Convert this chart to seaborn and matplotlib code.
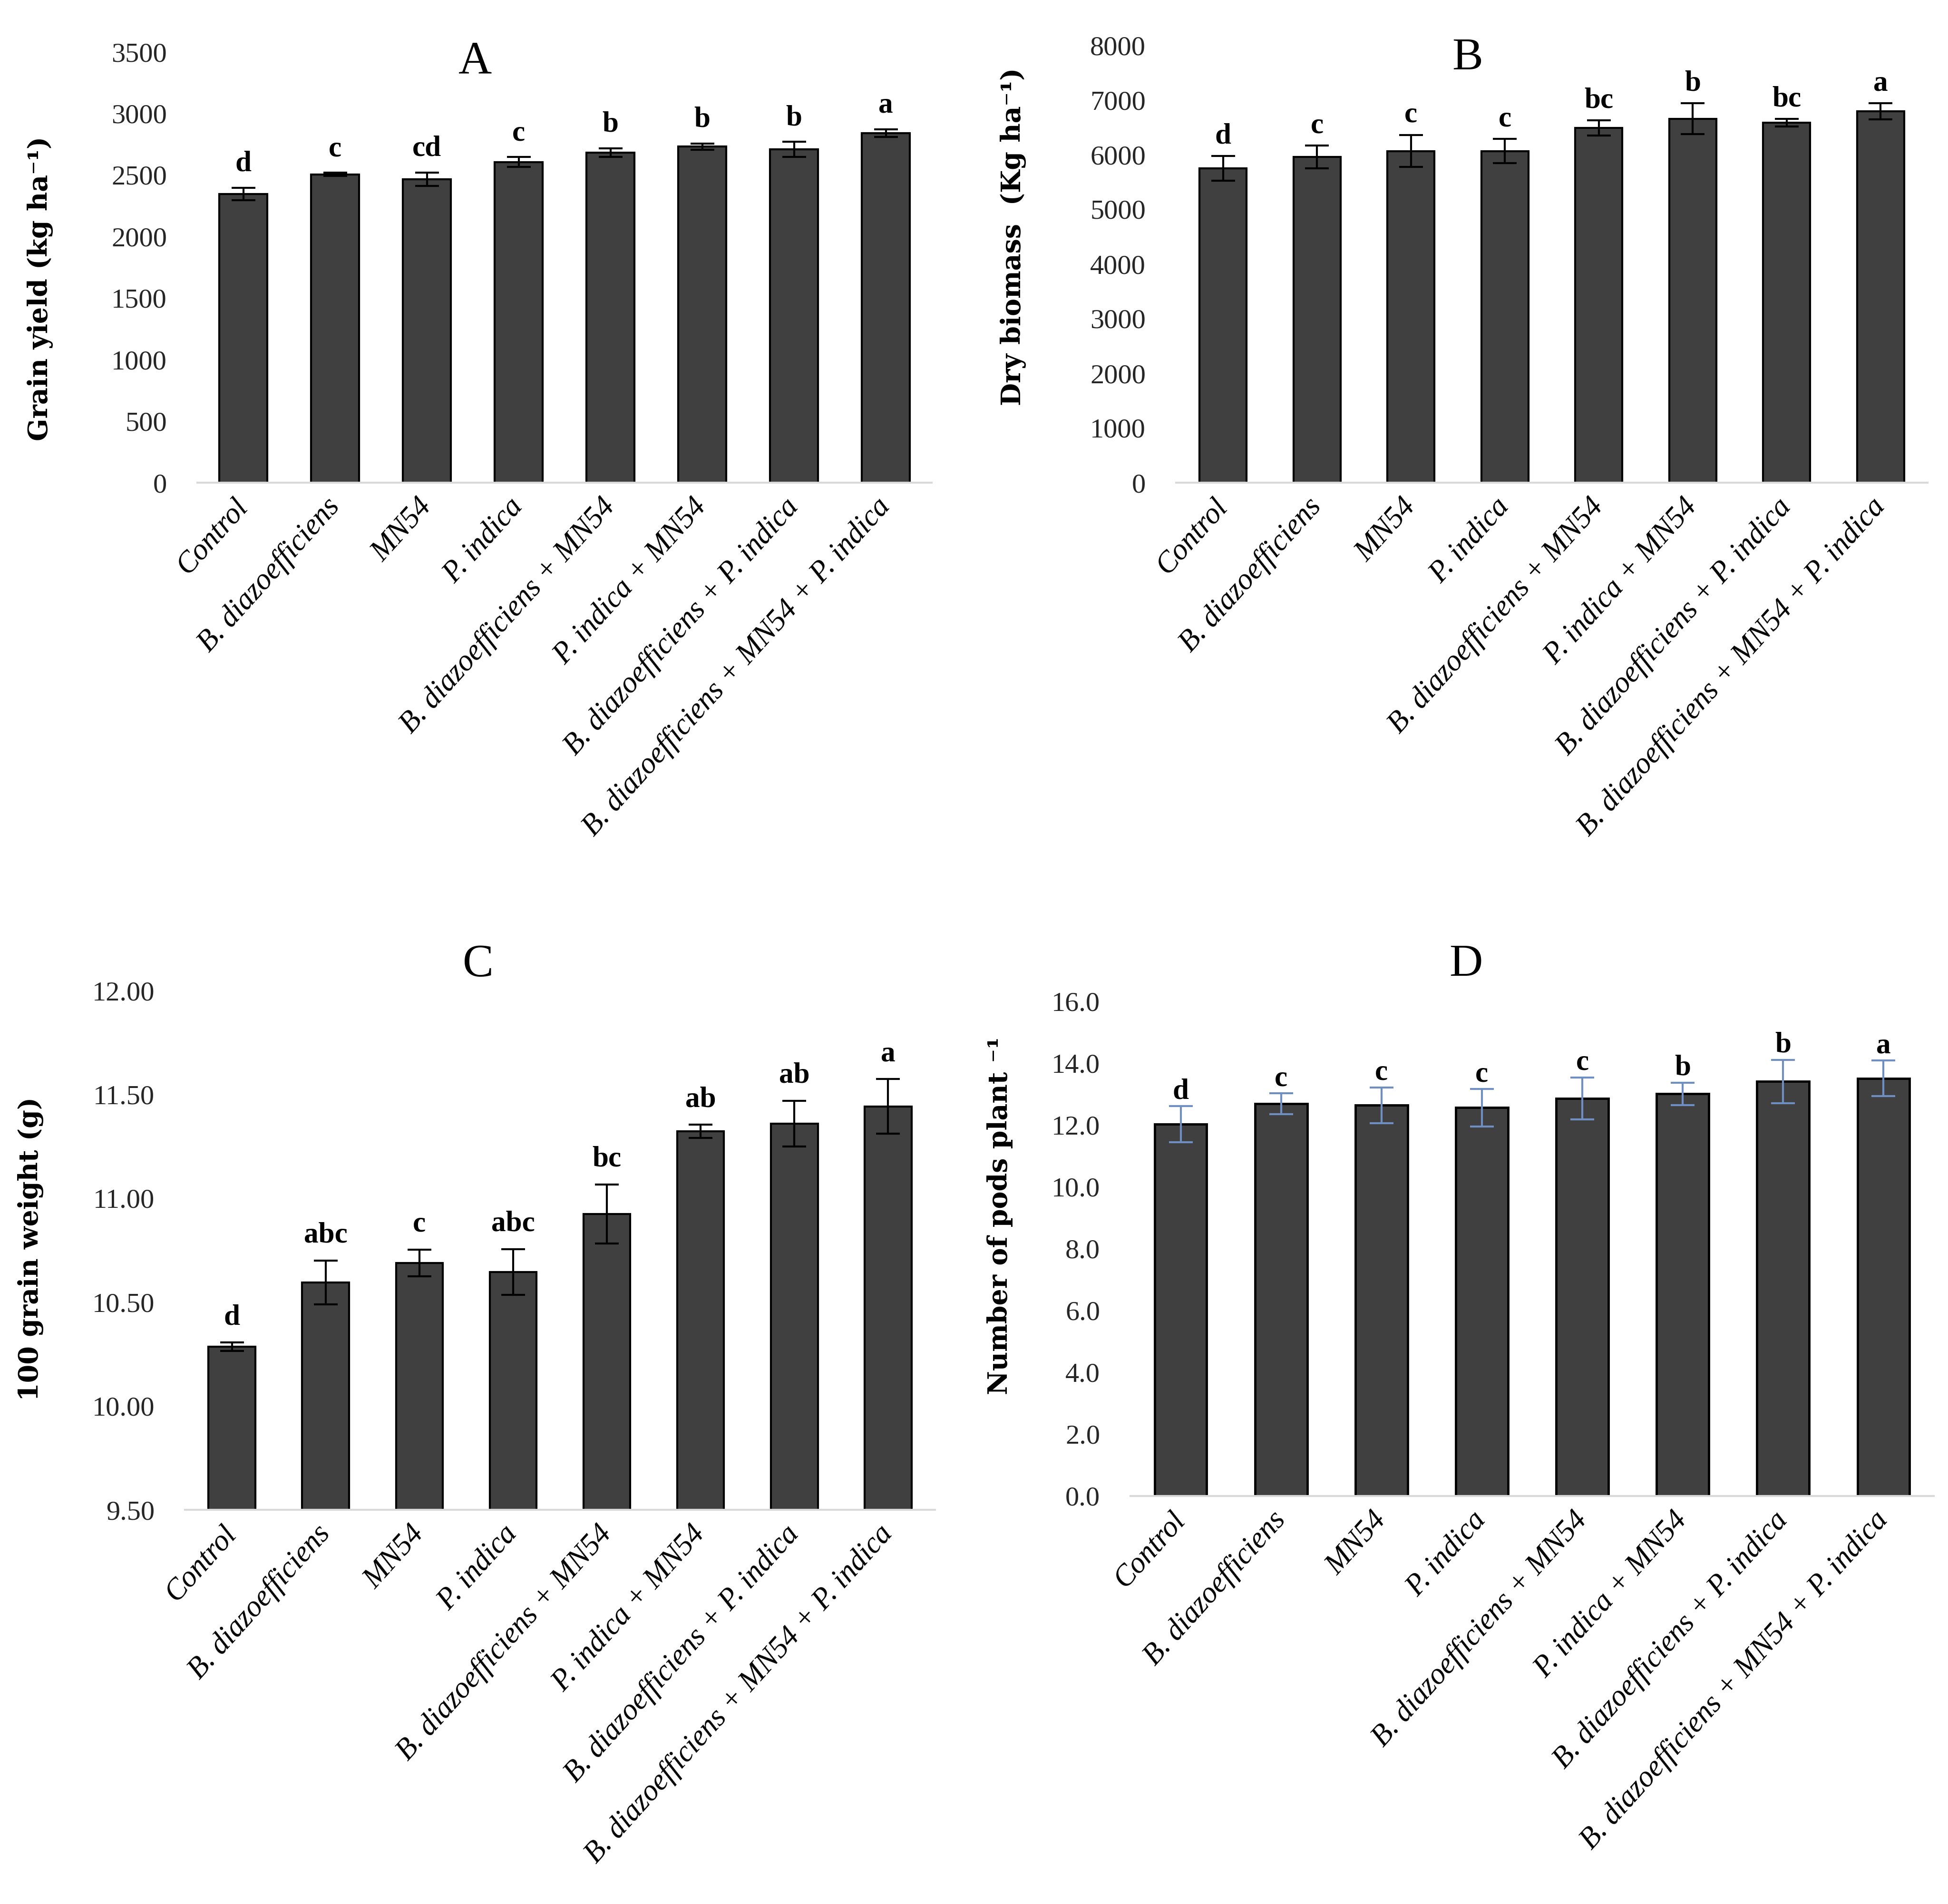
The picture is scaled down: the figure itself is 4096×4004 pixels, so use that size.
import matplotlib
matplotlib.use("Agg")
import matplotlib.pyplot as plt
import seaborn as sns
import pandas as pd
import numpy as np
from matplotlib.ticker import FormatStrFormatter

treatments = ["Control", "B. diazoefficiens", "MN54", "P. indica",
              "B. diazoefficiens + MN54", "P. indica + MN54",
              "B. diazoefficiens + P. indica",
              "B. diazoefficiens + MN54 + P. indica"]

grain_yield = [2345, 2505, 2465, 2605, 2680, 2730, 2708, 2840]
grain_yield_err = [50, 12, 55, 40, 35, 25, 60, 30]
grain_yield_letters = ["d", "c", "cd", "c", "b", "b", "b", "a"]

dry_biomass = [5745, 5955, 6065, 6065, 6485, 6655, 6580, 6790]
dry_biomass_err = [225, 210, 295, 220, 140, 280, 70, 150]
dry_biomass_letters = ["d", "c", "c", "c", "bc", "b", "bc", "a"]

grain_weight = [10.285, 10.595, 10.688, 10.645, 10.925, 11.322, 11.360, 11.442]
grain_weight_err = [0.02, 0.105, 0.065, 0.11, 0.142, 0.032, 0.11, 0.132]
grain_weight_letters = ["d", "abc", "c", "abc", "bc", "ab", "ab", "a"]

pods = [12.02, 12.68, 12.63, 12.55, 12.85, 13.0, 13.4, 13.5]
pods_err = [0.58, 0.34, 0.58, 0.6, 0.68, 0.36, 0.7, 0.58]
pods_letters = ["d", "c", "c", "c", "c", "b", "b", "a"]

yticks_a = [0, 500, 1000, 1500, 2000, 2500, 3000, 3500]
yticks_b = [0, 1000, 2000, 3000, 4000, 5000, 6000, 7000, 8000]
yticks_c = [9.5, 10.0, 10.5, 11.0, 11.5, 12.0]
yticks_d = [0, 2, 4, 6, 8, 10, 12, 14, 16]

W, H = 4096, 4004
fig = plt.figure(figsize=(W / 100, H / 100), dpi=100)
sns.set_style("white")
plt.rcParams["font.family"] = ["Liberation Serif", "DejaVu Serif"]

BAR = "#404040"
SERIF = ["Liberation Serif", "DejaVu Serif"]
LABELF = ["DejaVu Serif"]

panels = [
    dict(rect=[415, 109, 1959, 1015], vals=grain_yield, errs=grain_yield_err,
         letters=grain_yield_letters, yticks=yticks_a, ylim=(0, 3500), fmt="%d",
         ylabel="Grain yield (kg ha\u207b\u00b9)", ylab_xy=(85, 607), ylab_fs=40,
         title="A", title_xy=(999, 130), ecolor="black", elw=3.0, off=16, width=0.52),
    dict(rect=[2473, 95, 4053, 1015], vals=dry_biomass, errs=dry_biomass_err,
         letters=dry_biomass_letters, yticks=yticks_b, ylim=(0, 8000), fmt="%d",
         ylabel="Dry biomass  (Kg ha\u207b\u00b9)", ylab_xy=(2130, 498), ylab_fs=40,
         title="B", title_xy=(3086, 123), ecolor="black", elw=3.0, off=10, width=0.5),
    dict(rect=[389, 2083, 1966, 3175], vals=grain_weight, errs=grain_weight_err,
         letters=grain_weight_letters, yticks=yticks_c, ylim=(9.5, 12.0), fmt="%.2f",
         ylabel="100 grain weight (g)", ylab_xy=(65, 2626), ylab_fs=40,
         title="C", title_xy=(1005, 2030), ecolor="black", elw=3.0, off=18, width=0.5),
    dict(rect=[2377, 2105, 4066, 3146], vals=pods, errs=pods_err,
         letters=pods_letters, yticks=yticks_d, ylim=(0, 16), fmt="%.1f",
         ylabel="Number of pods plant \u207b\u00b9", ylab_xy=(2103, 2557), ylab_fs=40,
         title="D", title_xy=(3082, 2030), ecolor="#6F8FC2", elw=3.5, off=2, width=0.52),
]

for p in panels:
    x0, y0, x1, y1 = p["rect"]
    ax = fig.add_axes([x0 / W, 1 - y1 / H, (x1 - x0) / W, (y1 - y0) / H])
    df = pd.DataFrame({"treatment": treatments, "value": p["vals"]})
    sns.barplot(data=df, x="treatment", y="value", color=BAR, saturation=1,
                width=p["width"], errorbar=None, ax=ax,
                edgecolor="black", linewidth=p["elw"])
    xs = [b.get_x() + b.get_width() / 2 for b in ax.patches]
    ax.errorbar(xs, p["vals"], yerr=p["errs"], fmt="none", ecolor=p["ecolor"],
                elinewidth=3, capsize=18, capthick=3, zorder=5)
    for x, v, e, t in zip(xs, p["vals"], p["errs"], p["letters"]):
        ax.annotate(t, (x, v + e), xytext=(0, p["off"]), textcoords="offset points",
                    ha="center", va="bottom", fontsize=44, fontweight="bold",
                    family=SERIF, color="black", zorder=6)
    ax.set_ylim(*p["ylim"])
    ax.set_xlim(-0.5, len(treatments) - 0.5)
    ax.set_yticks(p["yticks"])
    ax.yaxis.set_major_formatter(FormatStrFormatter(p["fmt"]))
    ax.tick_params(axis="both", length=0)
    ax.tick_params(axis="y", pad=46, labelsize=42, labelcolor="#262626")
    ax.tick_params(axis="x", pad=30)
    ax.set_xticks(range(len(treatments)))
    ax.set_xticklabels(treatments, rotation=48, ha="right", va="center",
                       rotation_mode="anchor", fontsize=45, style="italic",
                       family=SERIF, color="black")
    for s in ["top", "right", "left"]:
        ax.spines[s].set_visible(False)
    ax.spines["bottom"].set_color("#D9D9D9")
    ax.spines["bottom"].set_linewidth(3)
    ax.set_xlabel("")
    ax.set_ylabel(p["ylabel"], fontsize=p["ylab_fs"], fontweight="bold",
                  family=LABELF, color="black")
    ax.yaxis.set_label_coords(p["ylab_xy"][0] / W, 1 - p["ylab_xy"][1] / H,
                              transform=fig.transFigure)
    ax.yaxis.label.set_va("center")
    fig.text(p["title_xy"][0] / W, 1 - p["title_xy"][1] / H, p["title"],
             ha="center", va="center", fontsize=70, family=SERIF, color="black")

fig.savefig("out.png", dpi=100, facecolor="white")
